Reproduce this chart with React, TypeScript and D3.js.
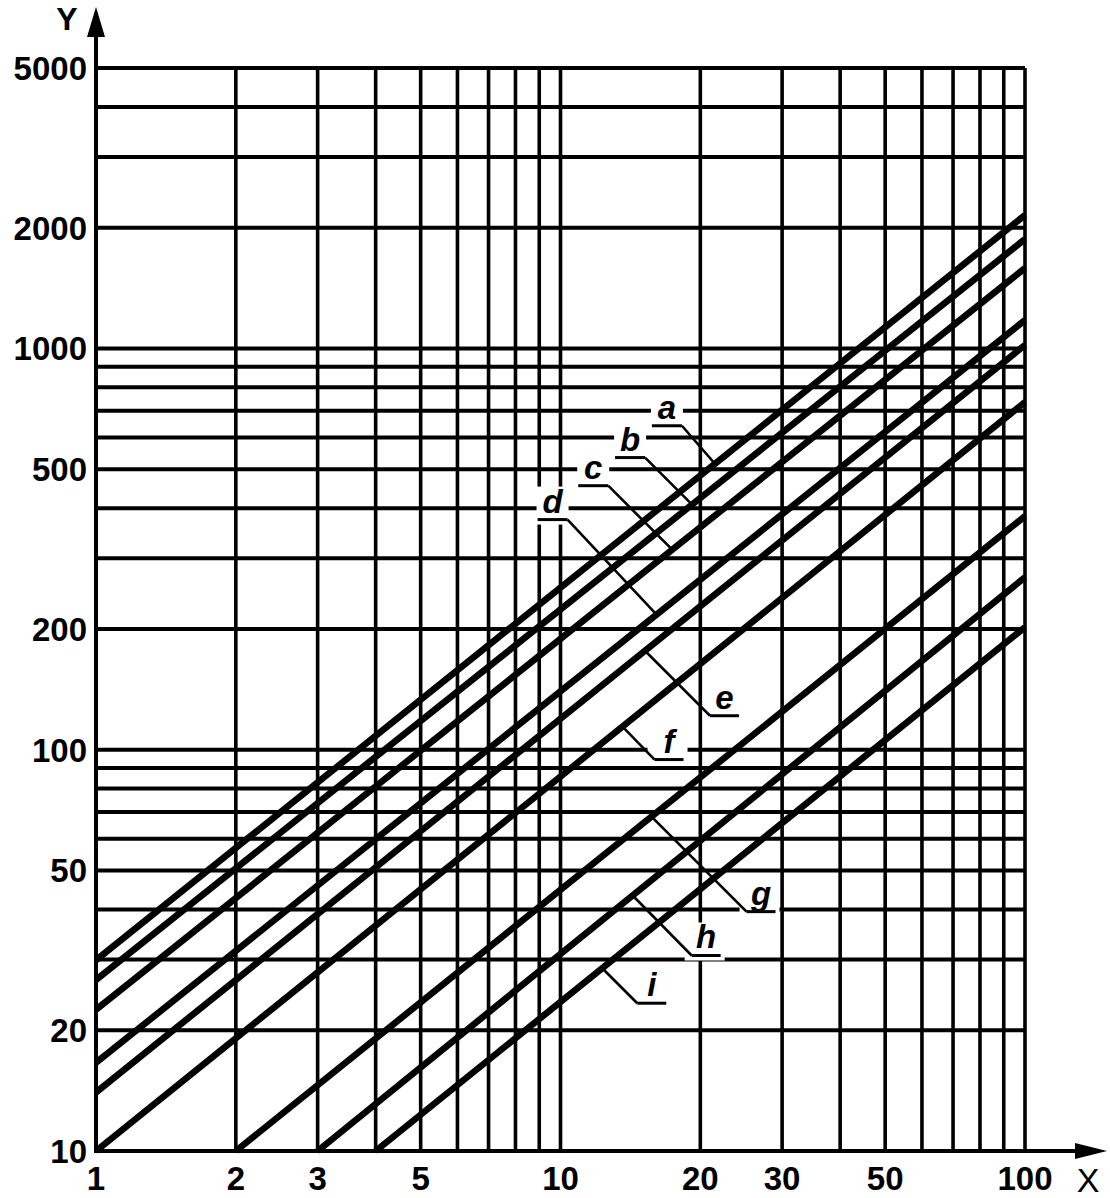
import React from 'react';
import * as d3 from 'd3';

// ---- data ----
const lineNames = ['a', 'b', 'c', 'd', 'e', 'f', 'g', 'h', 'i'];
const startX = [1, 1, 1, 1, 1, 1, 2, 3, 4];
const startY = [29.9, 26.7, 22.5, 16.6, 14.0, 10, 10, 10, 10];
const endX = [100, 100, 100, 100, 100, 100, 100, 100, 100];
const endY = [2150, 1873, 1586, 1177, 1020, 735, 382, 269, 202];
// x-value where each label's leader touches its line
const labelAtX = [21.5, 19.2, 17.4, 16.1, 15.2, 13.6, 15.7, 14.3, 12.3];

const xTicks = [1, 2, 3, 5, 10, 20, 30, 50, 100];
const yTicks = [10, 20, 50, 100, 200, 500, 1000, 2000, 5000];
const xGrid = [2, 3, 4, 5, 6, 7, 8, 9, 10, 20, 30, 40, 50, 60, 70, 80, 90, 100];
const yGrid = [20, 30, 40, 50, 60, 70, 80, 90, 100, 200, 300, 400, 500, 600, 700, 800, 900, 1000, 2000, 3000, 4000, 5000];

// ---- leader geometry (pixels): offset from touch point to elbow ----
const leaderDX = [-33, -47, -64, -89, 65, 32, 95, 59, 35];
const leaderDY = [-38, -47, -64, -95, 65, 33, 95, 60, 35];

const W = 1110;
const H = 1198;
const FONT = '"Liberation Sans", Arial, Helvetica, sans-serif';

export default function App() {
  const x = d3.scaleLog().domain([1, 100]).range([96, 1025]);
  const y = d3.scaleLog().domain([10, 5000]).range([1151, 68]);
  const x0 = x(1);
  const x1 = x(100);
  const y0 = y(10);
  const yTop = y(5000);

  const lineGen = d3
    .line<[number, number]>()
    .x((d) => x(d[0]))
    .y((d) => y(d[1]));

  const valueAt = (i: number, xv: number) => {
    const k = Math.log(endY[i] / startY[i]) / Math.log(endX[i] / startX[i]);
    return startY[i] * Math.pow(xv / startX[i], k);
  };

  const labels = lineNames.map((name, i) => {
    const tx = x(labelAtX[i]);
    const ty = y(valueAt(i, labelAtX[i]));
    const ex = tx + leaderDX[i];
    const ey = ty + leaderDY[i];
    const left = leaderDX[i] < 0;
    const u0 = left ? ex - 30 : ex;
    const u1 = left ? ex : ex + 29;
    const mx0 = left ? u0 - 1 : u0 - 7;
    const mx1 = left ? u1 + 1 : u1 + 4;
    return { name, tx, ty, ex, ey, u0, u1, mx0, mx1 };
  });

  return (
    <svg
      width={W}
      height={H}
      style={{ position: 'absolute', left: 0, top: 0, background: '#fff' }}
      fontFamily={FONT}
    >
      <rect x={0} y={0} width={W} height={H} fill="#fff" />
      {/* grid */}
      <g stroke="#000">
        {yGrid.map((v) => (
          <line key={'gy' + v} x1={x0} x2={x1} y1={y(v)} y2={y(v)} strokeWidth={4} />
        ))}
        {xGrid.map((v) => (
          <line key={'gx' + v} x1={x(v)} x2={x(v)} y1={yTop} y2={y0} strokeWidth={3.6} />
        ))}
      </g>
      {/* label masks */}
      <g fill="#fff">
        {labels.map((l) => (
          <rect key={'m' + l.name} x={l.mx0} y={l.ey - 33} width={l.mx1 - l.mx0} height={38} />
        ))}
      </g>
      {/* axes */}
      <g stroke="#000" strokeWidth={4}>
        <line x1={x0} x2={x0} y1={y0 + 2} y2={30} />
        <line x1={x0 - 2} x2={1080} y1={y0} y2={y0} />
      </g>
      <path d={`M${x0},7 L${x0 - 9},37 L${x0 + 9},37 Z`} fill="#000" />
      <path d={`M1107,${y0} L1075,${y0 - 8} L1075,${y0 + 8} Z`} fill="#000" />
      {/* data lines */}
      <g fill="none" stroke="#000" strokeWidth={6.6}>
        {lineNames.map((n, i) => (
          <path
            key={'l' + n}
            d={lineGen([
              [startX[i], startY[i]],
              [endX[i], endY[i]],
            ]) as string}
          />
        ))}
      </g>
      {/* leaders & labels */}
      <g stroke="#000" strokeWidth={2.6} fill="none">
        {labels.map((l) => (
          <g key={'ld' + l.name}>
            <line x1={l.tx} y1={l.ty} x2={l.ex} y2={l.ey} />
            <line x1={l.u0} y1={l.ey} x2={l.u1} y2={l.ey} strokeWidth={3} />
          </g>
        ))}
      </g>
      <g fontSize={33} fontWeight="bold" fontStyle="italic" textAnchor="middle">
        {labels.map((l) => (
          <text key={'t' + l.name} x={(l.u0 + l.u1) / 2} y={l.ey - 7}>
            {l.name}
          </text>
        ))}
      </g>
      {/* tick labels */}
      <g fontSize={33} fontWeight="bold" textAnchor="end">
        {yTicks.map((v) => (
          <text key={'yt' + v} x={87} y={y(v)} dy="0.36em">
            {v}
          </text>
        ))}
      </g>
      <g fontSize={33} fontWeight="bold" textAnchor="middle">
        {xTicks.map((v) => (
          <text key={'xt' + v} x={x(v)} y={1190}>
            {v}
          </text>
        ))}
      </g>
      <text x={67} y={30} fontSize={32} fontWeight="bold" textAnchor="middle">
        Y
      </text>
      <text x={1088} y={1192} fontSize={34} textAnchor="middle">
        X
      </text>
    </svg>
  );
}
